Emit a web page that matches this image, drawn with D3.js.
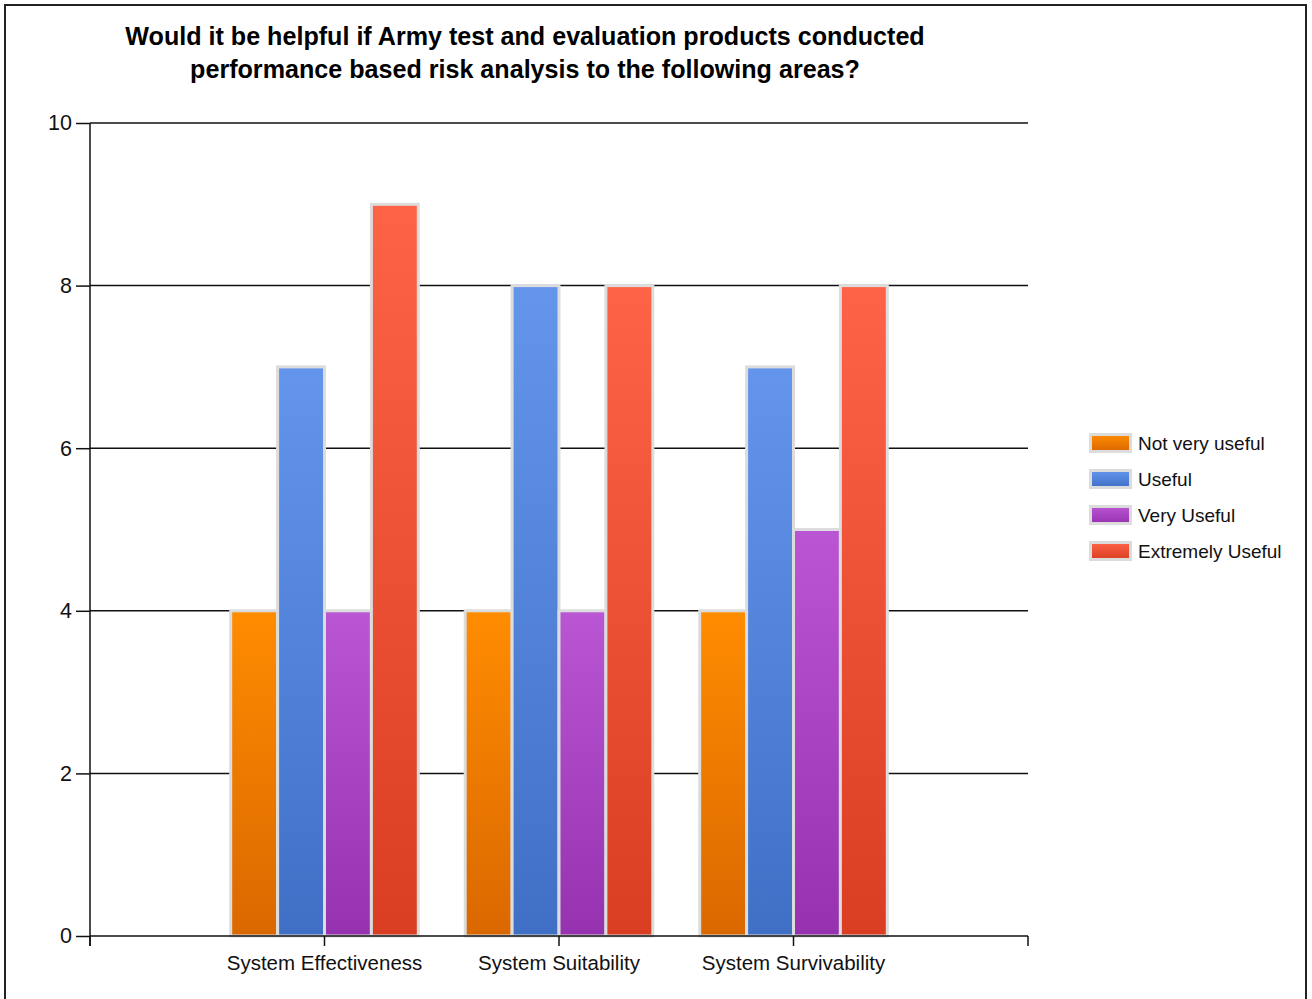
<!DOCTYPE html>
<html>
<head>
<meta charset="utf-8">
<script src="https://cdn.jsdelivr.net/npm/d3@7"></script>
<style>
  html, body { margin: 0; padding: 0; background: #fff; }
  svg { display: block; }
</style>
</head>
<body>
<script>
const titleLines = ["Would it be helpful if Army test and evaluation products conducted",
                    "performance based risk analysis to the following areas?"];
const categories = ["System Effectiveness", "System Suitability", "System Survivability"];
const seriesNames = ["Not very useful", "Useful", "Very Useful", "Extremely Useful"];
const notVeryUseful = [4, 4, 4];
const useful = [7, 8, 7];
const veryUseful = [4, 4, 5];
const extremelyUseful = [9, 8, 8];
const yTicks = [0, 2, 4, 6, 8, 10];
const colorsTop = ["#FF8C00", "#6495ED", "#BA55D3", "#FF6347"];
const colorsBottom = ["#DA6800", "#4070C6", "#9632B0", "#DA3E22"];

const seriesValues = [notVeryUseful, useful, veryUseful, extremelyUseful];

const W = 1312, H = 999;
const svg = d3.select("body").append("svg").attr("width", W).attr("height", H);
const font = "'Liberation Sans', Arial, sans-serif";

// outer frame
svg.append("rect").attr("x", 5).attr("y", 5).attr("width", 1301).attr("height", 1010)
  .attr("fill", "none").attr("stroke", "#222").attr("stroke-width", 2);

const defs = svg.append("defs");
seriesNames.forEach((s, i) => {
  const g = defs.append("linearGradient").attr("id", "grad" + i)
    .attr("x1", 0).attr("y1", 0).attr("x2", 0).attr("y2", 1);
  g.append("stop").attr("offset", "0%").attr("stop-color", colorsTop[i]);
  g.append("stop").attr("offset", "100%").attr("stop-color", colorsBottom[i]);
});

const plotL = 90, plotR = 1028, plotT = 123, plotB = 936;
const x = d3.scaleLinear().domain([0, categories.length + 1]).range([plotL, plotR]);
const y = d3.scaleLinear().domain([0, 10]).range([plotB, plotT]);

// gridlines
svg.append("g").selectAll("line").data(yTicks.filter(d => d > 0)).join("line")
  .attr("x1", plotL).attr("x2", plotR)
  .attr("y1", d => y(d)).attr("y2", d => y(d))
  .attr("stroke", "#111").attr("stroke-width", 1.5);

// y axis
const yAxis = svg.append("g").attr("transform", `translate(${plotL},0)`)
  .call(d3.axisLeft(y).tickValues(yTicks).tickSize(14).tickPadding(4));
yAxis.select(".domain").remove();
yAxis.selectAll(".tick line").attr("stroke", "#111").attr("stroke-width", 1.5);
yAxis.selectAll(".tick text").attr("font-family", font).attr("font-size", 21.5).attr("fill", "#111");
svg.append("line").attr("x1", plotL).attr("x2", plotL).attr("y1", plotT).attr("y2", plotB + 10)
  .attr("stroke", "#111").attr("stroke-width", 1.5);

// bars
const bandUnit = 0.2;
const barW = x(bandUnit) - x(0);
const barsG = svg.append("g");
seriesValues.forEach((vals, si) => {
  barsG.append("g").selectAll("rect").data(vals).join("rect")
    .attr("x", (d, ci) => x(ci + 1 + (si - 2) * bandUnit))
    .attr("y", d => y(d))
    .attr("width", barW)
    .attr("height", d => y(0) - y(d))
    .attr("fill", `url(#grad${si})`)
    .attr("stroke", "#dcdcdc").attr("stroke-width", 3);
});

// x axis
svg.append("line").attr("x1", plotL).attr("x2", plotR).attr("y1", plotB).attr("y2", plotB)
  .attr("stroke", "#111").attr("stroke-width", 1.5);
const xTickVals = d3.range(0, categories.length + 2);
svg.append("g").selectAll("line").data(xTickVals).join("line")
  .attr("x1", d => x(d)).attr("x2", d => x(d))
  .attr("y1", plotB).attr("y2", plotB + 10)
  .attr("stroke", "#111").attr("stroke-width", 1.5);
svg.append("g").selectAll("text").data(categories).join("text")
  .attr("x", (d, i) => x(i + 1)).attr("y", 970)
  .attr("text-anchor", "middle")
  .attr("font-family", font).attr("font-size", 20.5).attr("fill", "#111")
  .text(d => d);

// title
const titleG = svg.append("g");
titleLines.forEach((t, i) => {
  titleG.append("text")
    .attr("x", 525).attr("y", 45 + i * 33)
    .attr("text-anchor", "middle")
    .attr("font-family", font).attr("font-weight", "bold").attr("font-size", 20)
    .attr("fill", "#000").text(t);
});
const firstW = titleG.select("text").node().getComputedTextLength();
const fs = 20 * 800 / firstW;
titleG.selectAll("text").attr("font-size", fs);

// legend
const legend = svg.append("g");
seriesNames.forEach((s, i) => {
  const ly = 443 + i * 36;
  legend.append("rect").attr("x", 1090.5).attr("y", ly - 8.5).attr("width", 40).attr("height", 17)
    .attr("fill", `url(#grad${i})`).attr("stroke", "#dcdcdc").attr("stroke-width", 3);
  legend.append("text").attr("x", 1138).attr("y", ly + 7)
    .attr("font-family", font).attr("font-size", 19).attr("fill", "#111").text(s);
});
</script>
</body>
</html>
